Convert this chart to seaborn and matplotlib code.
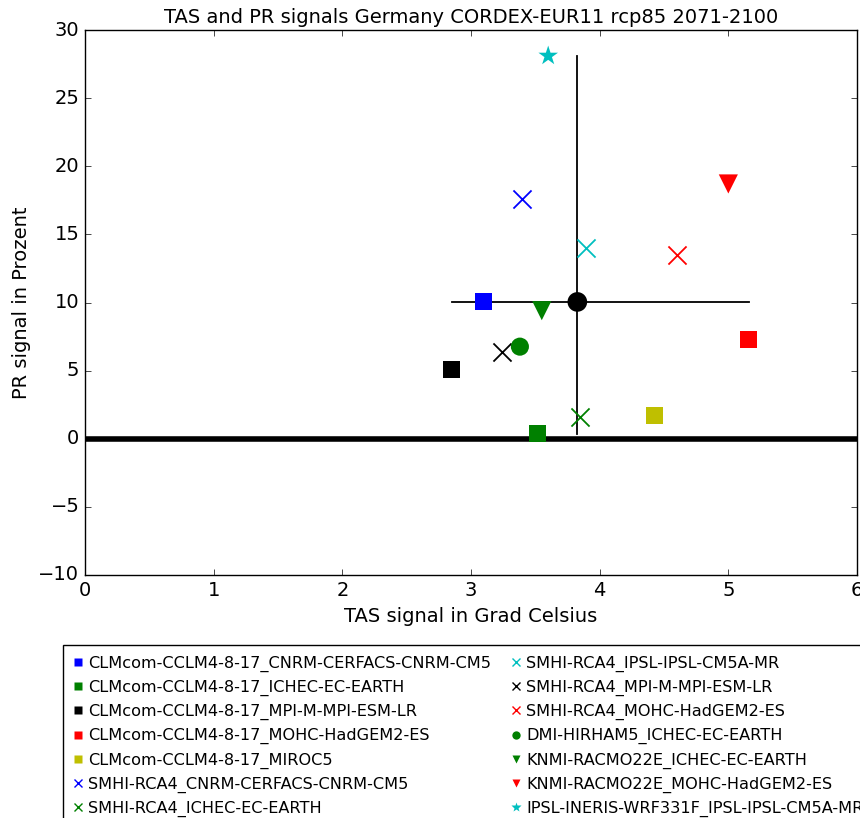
import matplotlib
matplotlib.use("Agg")
import matplotlib.pyplot as plt
from matplotlib.lines import Line2D
import numpy as np
import pandas as pd
import seaborn as sns

models = [
    "CLMcom-CCLM4-8-17_CNRM-CERFACS-CNRM-CM5",
    "CLMcom-CCLM4-8-17_ICHEC-EC-EARTH",
    "CLMcom-CCLM4-8-17_MPI-M-MPI-ESM-LR",
    "CLMcom-CCLM4-8-17_MOHC-HadGEM2-ES",
    "CLMcom-CCLM4-8-17_MIROC5",
    "SMHI-RCA4_CNRM-CERFACS-CNRM-CM5",
    "SMHI-RCA4_ICHEC-EC-EARTH",
    "SMHI-RCA4_IPSL-IPSL-CM5A-MR",
    "SMHI-RCA4_MPI-M-MPI-ESM-LR",
    "SMHI-RCA4_MOHC-HadGEM2-ES",
    "DMI-HIRHAM5_ICHEC-EC-EARTH",
    "KNMI-RACMO22E_ICHEC-EC-EARTH",
    "KNMI-RACMO22E_MOHC-HadGEM2-ES",
    "IPSL-INERIS-WRF331F_IPSL-IPSL-CM5A-MR",
]
tas = [3.10, 3.52, 2.85, 5.16, 4.43, 3.40, 3.85, 3.89, 3.24, 4.60, 3.38, 3.55, 5.00, 3.60]
pr = [10.1, 0.37, 5.07, 7.28, 1.7, 17.6, 1.6, 14.0, 6.4, 13.5, 6.76, 9.4, 18.7, 28.1]
colors = ["b", "g", "k", "r", "y", "b", "g", "c", "k", "r", "g", "g", "r", "c"]
markers = ["s", "s", "s", "s", "s", "x", "x", "x", "x", "x", "o", "v", "v", "*"]

df = pd.DataFrame({"model": models, "tas": tas, "pr": pr})

plt.style.use("classic")
plt.rcParams["font.family"] = ["DejaVu Sans"]

fig = plt.figure(figsize=(8.6, 8.18), dpi=100, facecolor="white")
ax = fig.add_axes([85 / 860, (818 - 575) / 818, (857 - 85) / 860, (575 - 30) / 818])
ax.set_facecolor("white")

ax.axhline(0, color="k", lw=4, zorder=1)

mt, mp = df["tas"].mean(), df["pr"].mean()
ax.plot([df["tas"].min(), df["tas"].max()], [mp, mp], color="k", lw=1.3, zorder=2)
ax.plot([mt, mt], [df["pr"].min(), df["pr"].max()], color="k", lw=1.3, zorder=2)

sizes = {"s": 150, "x": 170, "o": 170, "v": 190, "*": 220}
for m, c, mk in zip(models, colors, markers):
    sub = df[df["model"] == m]
    kw = dict(linewidths=1.3) if mk == "x" else dict(edgecolor="none")
    sns.scatterplot(data=sub, x="tas", y="pr", color=c, marker=mk, s=sizes[mk],
                    ax=ax, legend=False, zorder=3, **kw)

sns.scatterplot(x=[mt], y=[mp], color="k", marker="o", s=200, edgecolor="none",
                ax=ax, legend=False, zorder=4)

ax.set_xlim(0, 6)
ax.set_ylim(-10, 30)
ax.set_xticks(range(0, 7))
ax.set_yticks(range(-10, 31, 5))
ax.tick_params(labelsize=14)
ax.set_xlabel("TAS signal in Grad Celsius", fontsize=14)
ax.set_ylabel("PR signal in Prozent", fontsize=14)
ax.set_title("TAS and PR signals Germany CORDEX-EUR11 rcp85 2071-2100", fontsize=14)

handles = [Line2D([], [], ls="none", marker=mk, color=c, mec=c if mk == "x" else "none",
                  markersize=6 if mk != "*" else 7, mew=1)
           for c, mk in zip(colors, markers)]
leg = fig.legend(handles, models, loc="upper left", bbox_to_anchor=(63 / 860, (818 - 645) / 818),
                 ncol=2, fontsize=11.6, numpoints=1, handlelength=0.5, handletextpad=0.4,
                 columnspacing=1.3, labelspacing=0.5, borderpad=0.65, borderaxespad=0,
                 frameon=True, fancybox=False)
leg.get_frame().set_edgecolor("k")

fig.savefig("out.png", dpi=100, facecolor="white")
